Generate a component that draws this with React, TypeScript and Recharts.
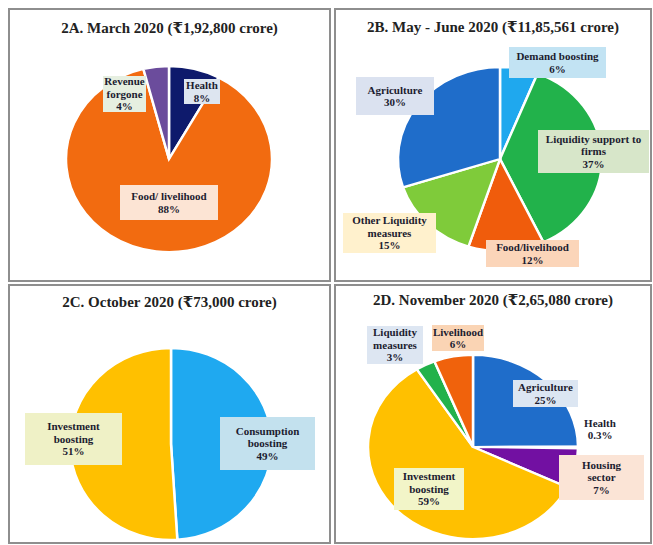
import { PieChart, Pie, Cell } from "recharts";

// 2A. March 2020
const marchNames = ["Health", "Food/ livelihood", "Revenue forgone"];
const marchValues = [8, 88, 4];
const marchLabels = ["Health", "Food/ livelihood", "Revenue\nforgone"];

// 2B. May - June 2020
const mayNames = ["Demand boosting", "Liquidity support to firms", "Food/livelihood", "Other Liquidity measures", "Agriculture"];
const mayValues = [6, 37, 12, 15, 30];
const mayLabels = ["Demand boosting", "Liquidity support to\nfirms", "Food/livelihood", "Other Liquidity\nmeasures", "Agriculture"];

// 2C. October 2020
const octNames = ["Consumption boosting", "Investment boosting"];
const octValues = [49, 51];
const octLabels = ["Consumption\nboosting", "Investment\nboosting"];

// 2D. November 2020
const novNames = ["Agriculture", "Health", "Housing sector", "Investment boosting", "Liquidity measures", "Livelihood"];
const novValues = [25, 0.3, 7, 59, 3, 6];
const novLabels = ["Agriculture", "Health", "Housing\nsector", "Investment\nboosting", "Liquidity\nmeasures", "Livelihood"];

type Box = { left: number; top: number; w: number; h: number; bg: string };

interface PanelProps {
  title: string;
  names: string[];
  values: number[];
  labels: string[];
  colors: string[];
  boxes: Box[];
  frame: { left: number; top: number; width: number; height: number };
  titleY: number;
  pie: { cx: number; cy: number; rx: number; ry: number };
}

const TEXT = "#1c1c30";
const SERIF = "'Liberation Serif', 'DejaVu Serif', serif";

function Panel({ title, names, values, labels, colors, boxes, frame, titleY, pie }: PanelProps) {
  const data = names.map((name, i) => ({ name, value: values[i] }));
  const size = pie.rx * 2 + 10;
  return (
    <>
      <div
        style={{
          position: "absolute",
          left: frame.left,
          top: frame.top,
          width: frame.width,
          height: frame.height,
          border: "2px solid #8e8e8e",
          boxSizing: "border-box",
          overflow: "hidden",
          background: "#fff",
        }}>
        <div
          style={{
            position: "absolute",
            left: 0,
            right: 0,
            top: titleY - frame.top - 11,
            textAlign: "center",
            fontFamily: SERIF,
            fontWeight: 700,
            fontSize: 15,
            color: "#222",
            whiteSpace: "nowrap",
          }}>
          {title}
        </div>
        <div
          style={{
            position: "absolute",
            left: pie.cx - frame.left - size / 2,
            top: pie.cy - frame.top - size / 2,
            transform: `scaleY(${pie.ry / pie.rx})`,
            transformOrigin: "center center",
          }}>
          <PieChart width={size} height={size}>
            <Pie
              data={data}
              dataKey="value"
              cx="50%"
              cy="50%"
              outerRadius={pie.rx}
              startAngle={90}
              endAngle={-270}
              stroke="#fff"
              strokeWidth={2.5}
              isAnimationActive={false}>
              {data.map((d, i) => (
                <Cell key={d.name} fill={colors[i]} />
              ))}
            </Pie>
          </PieChart>
        </div>
      </div>
      {boxes.map((b, i) => (
        <div
          key={names[i]}
          style={{
            position: "absolute",
            left: b.left,
            top: b.top,
            width: b.w,
            height: b.h,
            background: b.bg,
            display: "flex",
            flexDirection: "column",
            justifyContent: "center",
            alignItems: "center",
            fontFamily: SERIF,
            fontWeight: 700,
            fontSize: 11,
            lineHeight: "12.5px",
            color: TEXT,
            textAlign: "center",
            whiteSpace: "nowrap",
          }}>
          {labels[i].split("\n").map((line) => (
            <div key={line}>{line}</div>
          ))}
          <div>{values[i]}%</div>
        </div>
      ))}
    </>
  );
}

export default function App() {
  return (
    <div style={{ position: "absolute", left: 0, top: 0, width: 653, height: 545, background: "#fff" }}>
      <Panel
        title="2A. March 2020 (₹1,92,800 crore)"
        names={marchNames}
        values={marchValues}
        labels={marchLabels}
        colors={["#0e1a6c", "#f26b10", "#6b4c9c"]}
        boxes={[
          { left: 184, top: 79, w: 36, h: 25, bg: "#dde5f0" },
          { left: 120, top: 185, w: 98, h: 35, bg: "#fce4d4" },
          { left: 103, top: 76, w: 43, h: 36, bg: "#e6efe0" },
        ]}
        frame={{ left: 8, top: 8, width: 323, height: 274 }}
        titleY={28}
        pie={{ cx: 167, cy: 157, rx: 103, ry: 93 }}
      />
      <Panel
        title="2B. May - June 2020 (₹11,85,561 crore)"
        names={mayNames}
        values={mayValues}
        labels={mayLabels}
        colors={["#1fa8ee", "#22b24b", "#f05c0c", "#7fcb3a", "#1f6dca"]}
        boxes={[
          { left: 509, top: 47, w: 97, h: 31, bg: "#c2e3f3" },
          { left: 538, top: 130, w: 111, h: 43, bg: "#d7e6c9" },
          { left: 486, top: 240, w: 93, h: 27, bg: "#fbd5b9" },
          { left: 343, top: 213, w: 93, h: 40, bg: "#fff1cd" },
          { left: 356, top: 77, w: 78, h: 38, bg: "#dbe2f0" },
        ]}
        frame={{ left: 334, top: 8, width: 318, height: 274 }}
        titleY={27}
        pie={{ cx: 498, cy: 157, rx: 102, ry: 92 }}
      />
      <Panel
        title="2C. October 2020 (₹73,000 crore)"
        names={octNames}
        values={octValues}
        labels={octLabels}
        colors={["#1fa9f0", "#ffc000"]}
        boxes={[
          { left: 220, top: 417, w: 95, h: 53, bg: "#c3e1ee" },
          { left: 25, top: 413, w: 97, h: 52, bg: "#eff1c6" },
        ]}
        frame={{ left: 8, top: 284, width: 323, height: 260 }}
        titleY={302}
        pie={{ cx: 169, cy: 442, rx: 101, ry: 96 }}
      />
      <Panel
        title="2D. November 2020 (₹2,65,080 crore)"
        names={novNames}
        values={novValues}
        labels={novLabels}
        colors={["#1f6dca", "#c0392b", "#7210a2", "#ffc000", "#22b24b", "#f0620c"]}
        boxes={[
          { left: 513, top: 380, w: 65, h: 27, bg: "#dce6f2" },
          { left: 579, top: 417, w: 42, h: 24, bg: "transparent" },
          { left: 559, top: 455, w: 85, h: 45, bg: "#fbe4d6" },
          { left: 394, top: 468, w: 70, h: 42, bg: "#f2f5c8" },
          { left: 367, top: 326, w: 56, h: 38, bg: "#dde6f2" },
          { left: 432, top: 325, w: 52, h: 26, bg: "#fad4b4" },
        ]}
        frame={{ left: 334, top: 284, width: 318, height: 260 }}
        titleY={300}
        pie={{ cx: 471, cy: 445, rx: 105, ry: 92 }}
      />
    </div>
  );
}
